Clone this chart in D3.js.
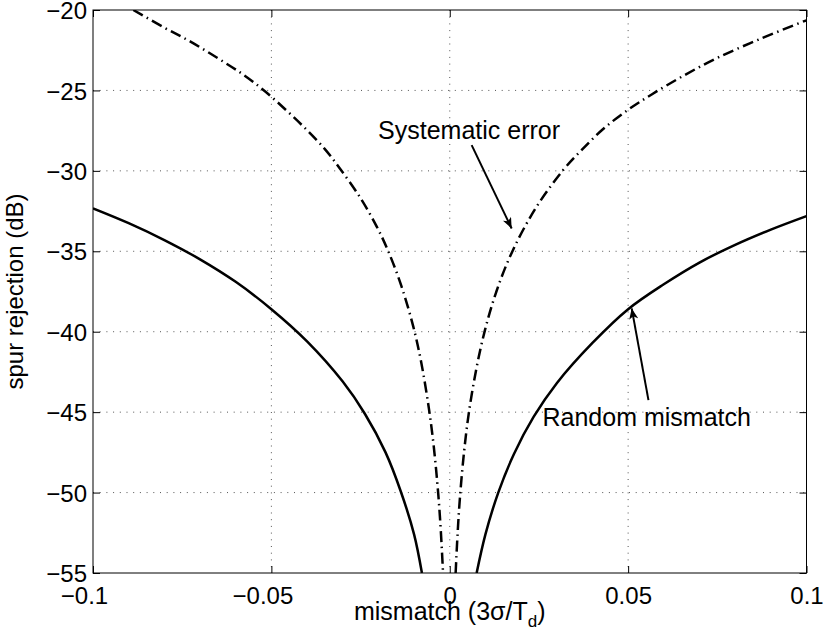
<!DOCTYPE html>
<html>
<head>
<meta charset="utf-8">
<script src="https://cdn.jsdelivr.net/npm/d3@7"></script>
<style>
  body { margin: 0; background: #fff; }
  text { font-family: "Liberation Sans", Arial, Helvetica, sans-serif; fill: #000; }
</style>
</head>
<body>
<div id="chart"></div>
<script>
// Tick values and labels
var xTicks = [-0.1, -0.05, 0, 0.05, 0.1];
var xTickLabels = ["\u22120.1", "\u22120.05", "0", "0.05", "0.1"];
var yTicks = [-20, -25, -30, -35, -40, -45, -50, -55];
var yTickLabels = ["\u221220", "\u221225", "\u221230", "\u221235", "\u221240", "\u221245", "\u221250", "\u221255"];

// Random mismatch (solid), two branches either side of zero
var randomLeftX = [-0.1, -0.09, -0.08, -0.07, -0.06, -0.05, -0.04, -0.03, -0.0238, -0.018, -0.01377, -0.01, -0.0078];
var randomLeftY = [-32.33, -33.25, -34.3, -35.5, -36.9, -38.6, -40.6, -43.1, -45.1, -47.5, -49.9, -52.6, -55];
var randomRightX = [0.00754, 0.01, 0.0136, 0.018, 0.0235, 0.03, 0.04, 0.05, 0.06, 0.07, 0.08, 0.09, 0.1];
var randomRightY = [-55, -52.6, -50, -47.6, -45.3, -43.2, -40.7, -38.6, -37.05, -35.7, -34.6, -33.65, -32.81];

// Systematic error (dash-dot)
var systLeftX = [-0.0887, -0.08, -0.0728, -0.065, -0.058, -0.0518, -0.0455, -0.0401, -0.035, -0.0308, -0.025, -0.0205,
    -0.01723, -0.0135, -0.0102, -0.008, -0.00583, -0.0045, -0.00322, -0.0025, -0.0019];
var systLeftY = [-20, -21.1, -21.95, -23.0, -24.0, -25.05, -26.3, -27.45, -28.65, -29.85, -31.7, -33.45,
    -35.0, -37.2, -39.7, -41.9, -44.8, -47.1, -50.1, -52.4, -54.9];
var systRightX = [0.00165, 0.0022, 0.00286, 0.004, 0.00538, 0.0075, 0.00987, 0.013, 0.01735, 0.024, 0.0318, 0.037,
    0.043, 0.05, 0.0566, 0.065, 0.0748, 0.087, 0.1];
var systRightY = [-55, -52.55, -50.3, -47.5, -45, -42.25, -39.9, -37.55, -35.1, -32.35, -29.95, -28.7,
    -27.4, -26.2, -25.25, -24.15, -23.0, -21.8, -20.64];

var svgWidth = 825;
var svgHeight = 641;
var margin = { top: 10, right: 18.5, bottom: 68, left: 93 };
var width = svgWidth - margin.left - margin.right;
var height = svgHeight - margin.top - margin.bottom;

var svg = d3.select("#chart")
    .append("svg")
    .attr("width", svgWidth)
    .attr("height", svgHeight);

var chartGroup = svg.append("g")
    .attr("transform", `translate(${margin.left}, ${margin.top})`);

var x = d3.scaleLinear().domain([-0.1, 0.1]).range([0, width]);
var y = d3.scaleLinear().domain([-55, -20]).range([height, 0]);

// dotted grid
chartGroup.append("g")
    .selectAll("line")
    .data(xTicks.slice(1, -1))
    .enter()
    .append("line")
    .attr("x1", d => x(d)).attr("x2", d => x(d))
    .attr("y1", 0).attr("y2", height)
    .attr("stroke", "#555")
    .attr("stroke-dasharray", "1,5.7");

chartGroup.append("g")
    .selectAll("line")
    .data(yTicks.slice(1, -1))
    .enter()
    .append("line")
    .attr("x1", 0).attr("x2", width)
    .attr("y1", d => y(d)).attr("y2", d => y(d))
    .attr("stroke", "#555")
    .attr("stroke-dasharray", "1,5.7");

// clip for the curves
svg.append("defs").append("clipPath").attr("id", "plotclip")
    .append("rect").attr("width", width).attr("height", height);

var line = d3.line()
    .x(d => x(d[0]))
    .y(d => y(d[1]))
    .curve(d3.curveCatmullRom.alpha(0.5));

function pairs(xs, ys) {
    return xs.map((v, i) => [v, ys[i]]);
}

var curves = chartGroup.append("g").attr("clip-path", "url(#plotclip)");

[pairs(randomLeftX, randomLeftY), pairs(randomRightX, randomRightY)].forEach(function (pts) {
    curves.append("path")
        .attr("d", line(pts))
        .attr("fill", "none")
        .attr("stroke", "#000")
        .attr("stroke-width", 2.5);
});

[pairs(systLeftX, systLeftY), pairs(systRightX, systRightY)].forEach(function (pts) {
    curves.append("path")
        .attr("d", line(pts))
        .attr("fill", "none")
        .attr("stroke", "#000")
        .attr("stroke-width", 2.5)
        .attr("stroke-dasharray", "11,4.5,1.5,4.5");
});

// axes: box with inward ticks on all sides
var tickLen = 7;
chartGroup.append("g")
    .attr("transform", `translate(0, ${height})`)
    .call(d3.axisBottom(x).tickValues(xTicks).tickSize(-tickLen).tickPadding(8)
        .tickFormat((d, i) => xTickLabels[i]))
    .call(g => g.select(".domain").remove())
    .call(g => g.selectAll("text")
        .attr("font-size", "24px")
        .attr("dy", "0.95em")
        .attr("dx", (d, i) => d < 0 ? -9 : 0));

chartGroup.append("g")
    .call(d3.axisTop(x).tickValues(xTicks).tickSize(-tickLen).tickFormat(""))
    .call(g => g.select(".domain").remove());

chartGroup.append("g")
    .call(d3.axisLeft(y).tickValues(yTicks).tickSize(-tickLen).tickPadding(6)
        .tickFormat((d, i) => yTickLabels[i]))
    .call(g => g.select(".domain").remove())
    .call(g => g.selectAll("text").attr("font-size", "24px").attr("dy", "0.36em"));

chartGroup.append("g")
    .attr("transform", `translate(${width}, 0)`)
    .call(d3.axisRight(y).tickValues(yTicks).tickSize(-tickLen).tickFormat(""))
    .call(g => g.select(".domain").remove());

chartGroup.selectAll(".tick line").attr("stroke", "#000");

chartGroup.append("rect")
    .attr("width", width)
    .attr("height", height)
    .attr("fill", "none")
    .attr("stroke", "#000")
    .attr("stroke-width", 1);

// axis labels
var xLabel = chartGroup.append("text")
    .attr("x", width / 2)
    .attr("y", height + 47)
    .attr("font-size", "25px")
    .attr("text-anchor", "middle");
xLabel.append("tspan").text("mismatch (3\u03c3/T");
xLabel.append("tspan").attr("font-size", "17px").attr("dy", 7).text("d");
xLabel.append("tspan").attr("dy", -7).text(")");

svg.append("text")
    .attr("transform", `translate(23, ${margin.top + height / 2}) rotate(-90)`)
    .attr("font-size", "24px")
    .attr("text-anchor", "middle")
    .text("spur rejection (dB)");

// annotations with arrows
svg.append("defs").append("marker")
    .attr("id", "head")
    .attr("viewBox", "0 0 12 10")
    .attr("refX", 12).attr("refY", 5)
    .attr("markerWidth", 12).attr("markerHeight", 9)
    .attr("markerUnits", "userSpaceOnUse")
    .attr("orient", "auto")
    .append("path")
    .attr("d", "M0,0 L12,5 L0,10 L3,5 Z")
    .attr("fill", "#000");

var notes = [
    { text: "Systematic error", tx: -0.0201, ty: -28.02, from: [0.00614, -28.4], to: [0.01735, -33.58] },
    { text: "Random mismatch", tx: 0.026, ty: -45.85, from: [0.0557, -44.25], to: [0.051, -38.55] }
];

notes.forEach(function (n) {
    chartGroup.append("text")
        .attr("x", x(n.tx))
        .attr("y", y(n.ty))
        .attr("font-size", "25px")
        .text(n.text);
    chartGroup.append("line")
        .attr("x1", x(n.from[0])).attr("y1", y(n.from[1]))
        .attr("x2", x(n.to[0])).attr("y2", y(n.to[1]))
        .attr("stroke", "#000")
        .attr("stroke-width", 2)
        .attr("marker-end", "url(#head)");
});
</script>
</body>
</html>
